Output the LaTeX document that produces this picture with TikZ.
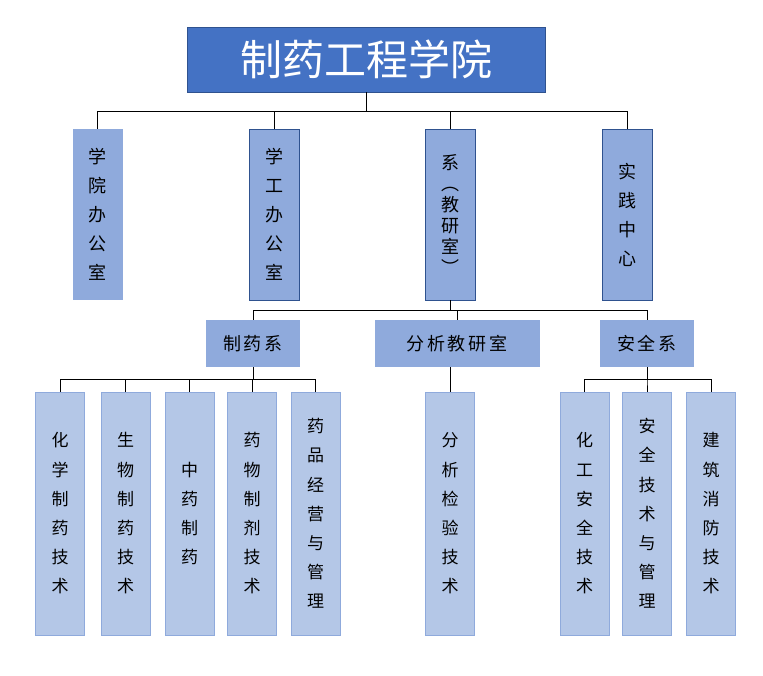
\documentclass[tikz,border=0pt]{standalone}
\usepackage{fontspec}
\newfontfamily\cjk{Noto Sans CJK SC}
\definecolor{titlefill}{HTML}{4472C4}
\definecolor{darkline}{HTML}{2F528F}
\definecolor{midfill}{HTML}{8FAADC}
\definecolor{lightfill}{HTML}{B4C7E7}
\tikzset{
  titlebox/.style={draw=darkline, line width=0.8pt, fill=titlefill, text=white, inner sep=0pt,
    minimum width=358pt, minimum height=65pt, font=\cjk\fontsize{42}{46}\selectfont},
  lvtwo/.style={draw=darkline, line width=0.8pt, fill=midfill, inner sep=0pt, align=center,
    minimum width=50pt, minimum height=171pt, font=\cjk\fontsize{18}{29}\selectfont},
  lvtwoplain/.style={lvtwo, draw=none},
  lvthree/.style={fill=midfill, inner sep=0pt, minimum height=47pt,
    font=\cjk\fontsize{18}{22}\selectfont\addfontfeature{LetterSpace=14}},
  lvfour/.style={draw=midfill, line width=0.8pt, fill=lightfill, inner sep=0pt, align=center,
    minimum width=49pt, minimum height=243pt, font=\cjk\fontsize{17}{29.2}\selectfont},
  link/.style={draw=black, line width=0.8pt}
}
\begin{document}
\begin{tikzpicture}[x=1pt,y=-1pt]
\useasboundingbox (0,0) rectangle (763,676);
% title
\node[titlebox] (t) at (366,59.5) {制药工程学院};
% level 2
\node[lvtwoplain] (a1) at (97.5,214.5) {学\\院\\办\\公\\室};
\node[lvtwo] (a2) at (274,214.5) {学\\工\\办\\公\\室};
\node[lvtwo, font=\cjk\fontsize{18}{21}\selectfont] (a3) at (450,214.5) {系\\︵\\教\\研\\室\\︶};
\node[lvtwo] (a4) at (627,214.5) {实\\践\\中\\心};
% level 3
\node[lvthree, minimum width=94pt] (b1) at (253,343.5) {制药系};
\node[lvthree, minimum width=165pt] (b2) at (457,343.5) {分析教研室};
\node[lvthree, minimum width=94pt] (b3) at (647,343.5) {安全系};
% level 4
\node[lvfour] (c1) at (60,513.5) {化\\学\\制\\药\\技\\术};
\node[lvfour] (c2) at (125.5,513.5) {生\\物\\制\\药\\技\\术};
\node[lvfour] (c3) at (189.5,513.5) {中\\药\\制\\药};
\node[lvfour] (c4) at (252,513.5) {药\\物\\制\\剂\\技\\术};
\node[lvfour] (c5) at (315.5,513.5) {药\\品\\经\\营\\与\\管\\理};
\node[lvfour] (c6) at (450,513.5) {分\\析\\检\\验\\技\\术};
\node[lvfour] (c7) at (584.5,513.5) {化\\工\\安\\全\\技\\术};
\node[lvfour] (c8) at (647,513.5) {安\\全\\技\\术\\与\\管\\理};
\node[lvfour] (c9) at (711,513.5) {建\\筑\\消\\防\\技\\术};
% connectors
\foreach \n in {a1,a2,a3,a4} \draw[link] (t.south) -- ++(0,19) -| (\n.north);
\foreach \n in {b1,b2,b3} \draw[link] (a3.south) -- ++(0,10) -| (\n.north);
\foreach \n in {c1,c2,c3,c4,c5} \draw[link] (b1.south) -- ++(0,12) -| (\n.north);
\draw[link] (b2.south -| c6.north) -- (c6.north);
\foreach \n in {c7,c8,c9} \draw[link] (b3.south) -- ++(0,12) -| (\n.north);
\end{tikzpicture}
\end{document}
